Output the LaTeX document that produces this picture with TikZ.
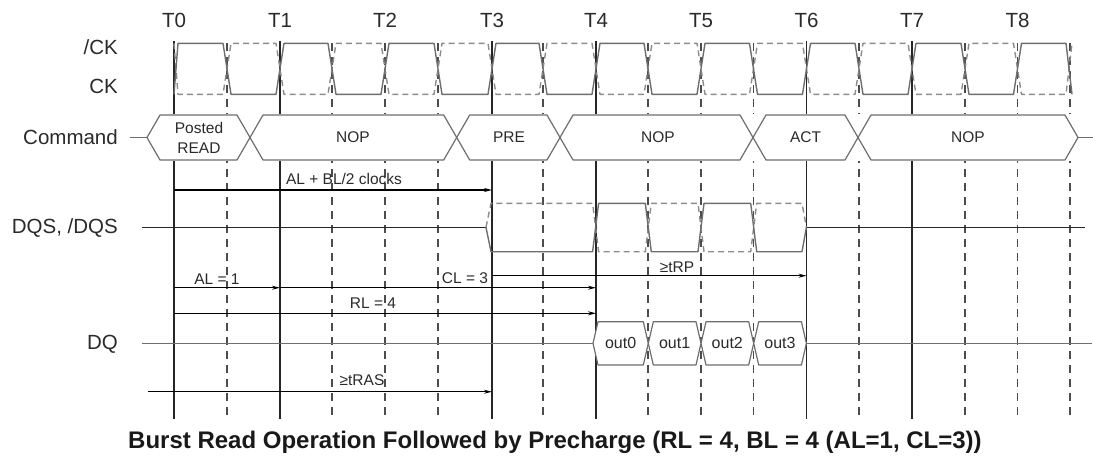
\documentclass[tikz,border=0pt]{standalone}
\usepackage{fontspec}
\setmainfont{Liberation Sans}
\usetikzlibrary{arrows.meta}
\definecolor{wave}{HTML}{6E6E6E}
\definecolor{wavelt}{HTML}{8C8C8C}
\definecolor{txt}{HTML}{2A2A2A}
\tikzset{
  vsolid/.style={line width=1.4pt, black!85},
  vdash/.style={line width=1.4pt, black!70, dash pattern=on 8pt off 6pt},
  wsolid/.style={line width=1.4pt, wave, line join=round},
  wdash/.style={line width=1.4pt, wavelt, dash pattern=on 6pt off 4pt, line join=round},
  bus/.style={line width=1.2pt, wave, fill=white, line join=round},
  sigline/.style={line width=1.2pt, black!85},
  dqline/.style={line width=1.2pt, wave},
  timer/.style={line width=1.1pt, black, -{Stealth[length=8pt,width=4pt]}},
  siglabel/.style={anchor=east, font=\fontsize{20.5}{24}\selectfont, text=txt, inner sep=0pt},
  tlabel/.style={font=\fontsize{20.5}{24}\selectfont, text=txt, inner sep=0pt},
  buslabel/.style={font=\fontsize{15.5}{20}\selectfont, text=txt, align=center, inner sep=0pt},
  arrlabel/.style={font=\fontsize{15.5}{18}\selectfont, text=txt, inner sep=0pt},
}
% #1 left tip, #2 right tip, #3 slope width, #4 top, #5 bottom
\newcommand{\mkhex}[5]{\draw[bus] (#1,{(#4+#5)/2}) -- ({#1+#3},#4) -- ({#2-#3},#4) -- (#2,{(#4+#5)/2}) -- ({#2-#3},#5) -- ({#1+#3},#5) -- cycle;}
% clock waveform, #1 start level, #2 other level
\newcommand{\clkwave}[2]{(174,#1) -- (178,#2) -- (223,#2) -- (231,#1) -- (276,#1) -- (284,#2) -- (328,#2) -- (336,#1) -- (381,#1) -- (389,#2) -- (434,#2) -- (442,#1) -- (488,#1) -- (496,#2) -- (539,#2) -- (547,#1) -- (592,#1) -- (600,#2) -- (644,#2) -- (652,#1) -- (697,#1) -- (705,#2) -- (749.5,#2) -- (757.5,#1) -- (802.5,#1) -- (810.5,#2) -- (855,#2) -- (863,#1) -- (908,#1) -- (916,#2) -- (961,#2) -- (969,#1) -- (1013.5,#1) -- (1021.5,#2) -- (1066,#2) -- (1072,#1)}
\newcommand{\dqswave}[2]{(486,227.3) -- (491,#1) -- (592.6,#1) -- (598.6,#2) -- (645.3,#2) -- (651.3,#1) -- (698,#1) -- (704,#2) -- (750.7,#2) -- (756.7,#1) -- (802,#1) -- (806.4,227.3)}
\begin{document}
\begin{tikzpicture}[x=1pt,y=-1pt]
\useasboundingbox (0,0) rectangle (1093,456);
% vertical time lines
\foreach \x in {174,280,492,596,806.5,912} \draw[vsolid] (\x,41) -- (\x,419);
\foreach \x in {227,332,385,438,543,648,701,753.5,859,965,1017.5,1070} \draw[vdash] (\x,43) -- (\x,419);
% time labels
\foreach \x/\t in {174/0,280/1,385/2,492/3,596/4,701/5,806.5/6,912/7,1017.5/8}
  \node[tlabel] (T\t) at (\x,20.5) {T\t};
% signal labels
\node[siglabel] (lckn) at (118,47) {/CK};
\node[siglabel] (lck) at (118,86) {CK};
\node[siglabel] (lcmd) at (118,137.5) {Command};
\node[siglabel] (ldqs) at (118,228) {DQS, /DQS};
\node[siglabel] (ldq) at (118,344.5) {DQ};
% clocks
\draw[wdash] \clkwave{43.3}{94.3};
\draw[wsolid] \clkwave{94.3}{43.3};
% command bus
\fill[white] (147,114) rectangle (1078,161);
\draw[bus] (130,137.5) -- (147,137.5);
\draw[bus] (1078,137.5) -- (1093,137.5);
\mkhex{147}{250}{13}{115}{160}
\mkhex{250}{456.7}{13}{115}{160}
\mkhex{456.7}{560}{13}{115}{160}
\mkhex{560}{753}{13}{115}{160}
\mkhex{753}{858}{13}{115}{160}
\mkhex{858}{1078}{13}{115}{160}
\node[buslabel] (c0) at (199,138) {Posted\\READ};
\node[buslabel] (c1) at (353,137.5) {NOP};
\node[buslabel] (c2) at (509,137.5) {PRE};
\node[buslabel] (c3) at (658,137.5) {NOP};
\node[buslabel] (c4) at (805.5,137.5) {ACT};
\node[buslabel] (c5) at (968,137.5) {NOP};
% DQS
\draw[sigline] (142,227.3) -- (486,227.3);
\draw[sigline] (806.4,227.3) -- (1085,227.3);
\draw[wdash] \dqswave{203.3}{251.7};
\draw[wsolid] \dqswave{251.7}{203.3};
% DQ
\draw[dqline] (142,343.4) -- (593,343.4);
\draw[dqline] (806.4,343.4) -- (1092,343.4);
\mkhex{593}{648.3}{5}{321.7}{365}
\mkhex{648.3}{701}{5}{321.7}{365}
\mkhex{701}{753.7}{5}{321.7}{365}
\mkhex{753.7}{806.4}{5}{321.7}{365}
\node[buslabel,font=\fontsize{16}{19}\selectfont] (o0) at (620.6,343.4) {out0};
\node[buslabel,font=\fontsize{16}{19}\selectfont] (o1) at (674.6,343.4) {out1};
\node[buslabel,font=\fontsize{16}{19}\selectfont] (o2) at (727.3,343.4) {out2};
\node[buslabel,font=\fontsize{16}{19}\selectfont] (o3) at (780,343.4) {out3};
% timing arrows
\coordinate (ab0) at (174,190);   \coordinate (ab1) at (492,190);
\coordinate (al0) at (174,287.7); \coordinate (al1) at (280,287.7);
\coordinate (cl1) at (596,287.7);
\coordinate (rp0) at (492,275.7); \coordinate (rp1) at (806.5,275.7);
\coordinate (rl0) at (174,313.3); \coordinate (rl1) at (596,313.3);
\coordinate (ra0) at (148,391.7); \coordinate (ra1) at (492,391.7);
\draw[timer] (ab0) -- (ab1);
\draw[timer] (al0) -- (al1);
\draw[timer] (al1) -- (cl1);
\draw[timer] (rp0) -- (rp1);
\draw[timer] (rl0) -- (rl1);
\draw[timer] (ra0) -- (ra1);
\node[arrlabel] (tab) at (344,178.5) {AL + BL/2 clocks};
\node[arrlabel] (tal) at (217,279) {AL = 1};
\node[arrlabel] (tcl) at (465,278.5) {CL = 3};
\node[arrlabel] (trp) at (677,267) {≥tRP};
\node[arrlabel] (trl) at (373,303) {RL = 4};
\node[arrlabel] (tra) at (362,380) {≥tRAS};
% caption
\node[font=\bfseries\fontsize{24}{28}\selectfont, text=black!90, inner sep=0pt] (cap) at (555,442) {Burst Read Operation Followed by Precharge (RL = 4, BL = 4 (AL=1, CL=3))};
\end{tikzpicture}
\end{document}
